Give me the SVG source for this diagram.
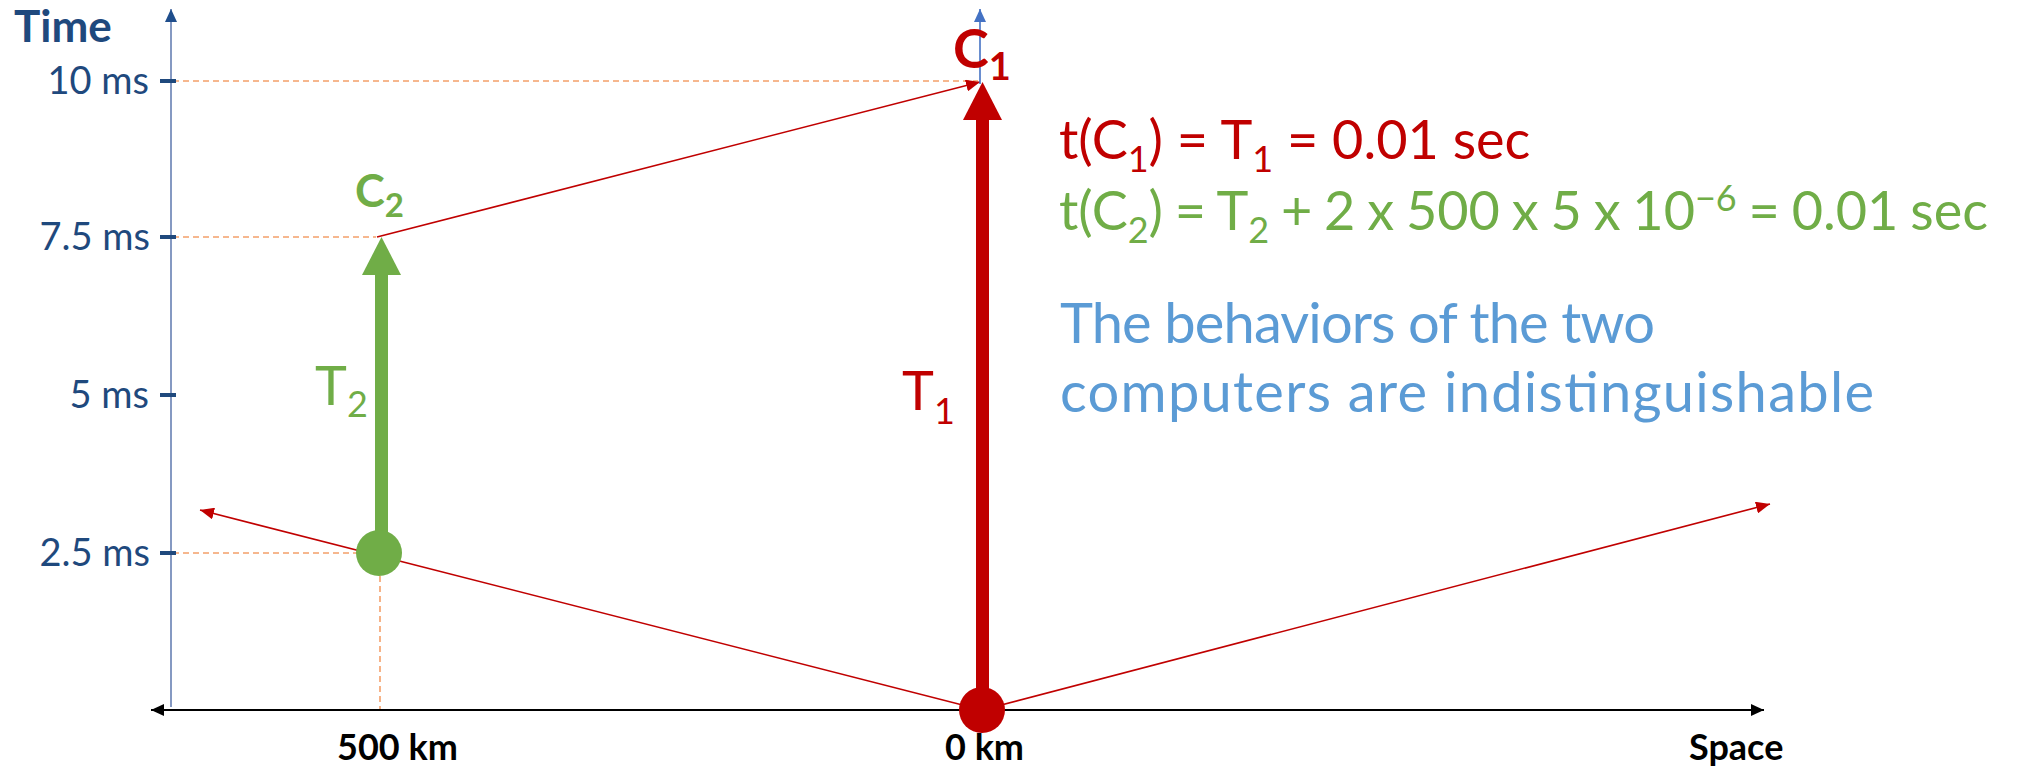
<svg xmlns="http://www.w3.org/2000/svg" width="2020" height="768" viewBox="0 0 2020 768">
<style>
text{font-family:Lato,"Open Sans","Liberation Sans",sans-serif}
.tick{font-size:38px;fill:#1F497D;text-anchor:end}
.km{font-size:36px;font-weight:bold;fill:#000}
.dash{stroke:#F4A06A;stroke-width:1.6;stroke-dasharray:6 4;fill:none}
.ray{stroke:#C00000;stroke-width:1.6;fill:none}
.red{fill:#C00000}
.green{fill:#70AD47}
.blue{fill:#5B9BD5}
</style>
<defs>
<marker id="ab" markerUnits="userSpaceOnUse" markerWidth="14" markerHeight="12" refX="13" refY="6" orient="auto-start-reverse"><path d="M0,0 L13,6 L0,12 z" fill="#000"/></marker>
<marker id="ar" markerUnits="userSpaceOnUse" markerWidth="15" markerHeight="12" refX="14" refY="6" orient="auto"><path d="M0,0 L14,6 L0,12 z" fill="#C00000"/></marker>
<marker id="an" markerUnits="userSpaceOnUse" markerWidth="14" markerHeight="12" refX="13" refY="6" orient="auto"><path d="M0,0 L13,6 L0,12 z" fill="#1F4E8C"/></marker>
<marker id="al" markerUnits="userSpaceOnUse" markerWidth="14" markerHeight="12" refX="13" refY="6" orient="auto"><path d="M0,0 L13,6 L0,12 z" fill="#4472C4"/></marker>
</defs>
<rect width="2020" height="768" fill="#fff"/>

<g id="guides">
<line class="dash" x1="173" y1="81" x2="978" y2="81"/>
<line class="dash" x1="173" y1="237" x2="376" y2="237"/>
<line class="dash" x1="173" y1="553" x2="360" y2="553"/>
<line class="dash" x1="380" y1="576" x2="380" y2="709"/>
</g>

<g id="axes">
<line x1="171" y1="707" x2="171" y2="9" stroke="#8599C2" stroke-width="2" marker-end="url(#an)"/>
<line x1="151" y1="710" x2="1764" y2="710" stroke="#000" stroke-width="1.8" marker-start="url(#ab)" marker-end="url(#ab)"/>
<g stroke="#1F497D" stroke-width="4">
<line x1="160" y1="81" x2="176" y2="81"/>
<line x1="160" y1="237" x2="176" y2="237"/>
<line x1="160" y1="395" x2="176" y2="395"/>
<line x1="160" y1="553" x2="176" y2="553"/>
</g>
<text x="14" y="42" font-size="44" font-weight="bold" fill="#1F497D">Time</text>
<text class="tick" x="149" y="94">10 ms</text>
<text class="tick" x="150" y="250">7.5 ms</text>
<text class="tick" x="149" y="408">5 ms</text>
<text class="tick" x="150" y="566">2.5 ms</text>
<text class="km" x="337" y="760">500 km</text>
<text class="km" x="945" y="760">0 km</text>
<text class="km" x="1689" y="760">Space</text>
</g>

<g id="connectors">
<line class="ray" x1="982" y1="710" x2="200" y2="510" marker-end="url(#ar)"/>
<line class="ray" x1="982" y1="710" x2="1770" y2="504" marker-end="url(#ar)"/>
<line class="ray" x1="377" y1="237" x2="980" y2="82" marker-end="url(#ar)"/>
<line x1="980" y1="84" x2="980" y2="9" stroke="#4472C4" stroke-width="1.6" marker-end="url(#al)"/>
</g>

<g id="computer1">
<rect class="red" x="976" y="118" width="13" height="592"/>
<polygon class="red" points="982.5,82 1002,120 963,120"/>
<circle class="red" cx="982" cy="710" r="23"/>
<text x="953" y="68" font-size="54" font-weight="bold" class="red">C<tspan dy="12" font-size="38">1</tspan></text>
<text x="902" y="410" font-size="54" class="red">T<tspan dy="14" font-size="36">1</tspan></text>
</g>

<g id="computer2">
<rect class="green" x="375" y="273" width="13" height="280"/>
<polygon class="green" points="381.5,237 401,275 362,275"/>
<circle class="green" cx="379" cy="553" r="23"/>
<text x="355" y="207" font-size="45" font-weight="bold" class="green">C<tspan dy="10" font-size="33">2</tspan></text>
<text x="315" y="405" font-size="54" class="green">T<tspan dy="12" font-size="36">2</tspan></text>
</g>

<g id="equations">
<text x="1059" y="159" font-size="54" class="red">t(C<tspan dy="13" font-size="36">1</tspan><tspan dy="-13">) = T</tspan><tspan dy="13" font-size="36">1</tspan><tspan dy="-13"> = 0.01 sec</tspan></text>
<text x="1059" y="230" font-size="54" class="green" word-spacing="-2">t(C<tspan dy="13" font-size="36">2</tspan><tspan dy="-13">) = T</tspan><tspan dy="13" font-size="36">2</tspan><tspan dy="-13"> + 2 x 500 x 5 x 10</tspan><tspan dy="-19" font-size="36">−6</tspan><tspan dy="19"> = 0.01 sec</tspan></text>
<text x="1060" y="343" font-size="56" class="blue" textLength="595">The behaviors of the two</text>
<text x="1060" y="412" font-size="56" class="blue" textLength="814">computers are indistinguishable</text>
</g>
</svg>
